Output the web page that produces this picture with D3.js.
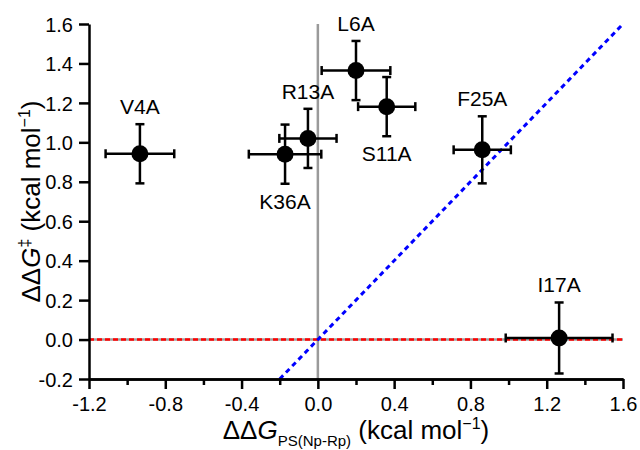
<!DOCTYPE html>
<html>
<head>
<meta charset="utf-8">
<script src="https://cdn.jsdelivr.net/npm/d3@7"></script>
<style>
  html, body { margin: 0; padding: 0; background: #fff; }
  svg { display: block; font-family: Arial, "Liberation Sans", sans-serif; }
</style>
</head>
<body>
<svg id="chart" width="640" height="450"></svg>
<script>
// ---- data ----
const mutants   = ["V4A", "K36A", "R13A", "L6A", "S11A", "F25A", "I17A"];
const ddGps     = [-0.933, -0.172, -0.052, 0.200, 0.361, 0.862, 1.265];
const ddGts     = [0.942, 0.940, 1.020, 1.364, 1.181, 0.962, 0.008];
const xErr      = [0.18, 0.19, 0.15, 0.18, 0.15, 0.15, 0.28];
const yErr      = [0.15, 0.15, 0.15, 0.15, 0.15, 0.17, 0.18];
const labelSide = ["top", "bottom", "top", "top", "bottom", "top", "top"];
const xTicksMajor = [-1.2, -0.8, -0.4, 0.0, 0.4, 0.8, 1.2, 1.6];
const xTicksMinor = [-1.0, -0.6, -0.2, 0.2, 0.6, 1.0, 1.4];
const yTicks      = [-0.2, 0.0, 0.2, 0.4, 0.6, 0.8, 1.0, 1.2, 1.4, 1.6];
const xDomain = [-1.2, 1.6];
const yDomain = [-0.2, 1.6];
const diagLine = [[-0.2, -0.2], [1.6, 1.6]];   // y = x reference

// ---- layout ----
const svg = d3.select("#chart");
const pL = 89, pR = 623, pT = 24, pB = 379;
const x = d3.scaleLinear().domain(xDomain).range([pL, pR]);
const y = d3.scaleLinear().domain(yDomain).range([pB, pT]);

const points = mutants.map((m, i) => ({
  name: m, x: ddGps[i], y: ddGts[i], ex: xErr[i], ey: yErr[i], side: labelSide[i]
}));

// reference lines
svg.append("line")
  .attr("x1", x(0)).attr("x2", x(0)).attr("y1", y(yDomain[0])).attr("y2", y(yDomain[1]))
  .attr("stroke", "#9a9a9a").attr("stroke-width", 2.5);
svg.append("line")
  .attr("x1", x(xDomain[0])).attr("x2", x(xDomain[1])).attr("y1", y(0)).attr("y2", y(0))
  .attr("stroke", "#a0a0a0").attr("stroke-width", 2.5);
svg.append("line")
  .attr("x1", x(xDomain[0])).attr("x2", x(xDomain[1])).attr("y1", y(0)).attr("y2", y(0))
  .attr("stroke", "#ff0000").attr("stroke-width", 2.5).attr("stroke-dasharray", "5,3");
svg.append("path")
  .datum(diagLine)
  .attr("d", d3.line().x(d => x(d[0])).y(d => y(d[1])))
  .attr("fill", "none").attr("stroke", "#0000ff").attr("stroke-width", 3)
  .attr("stroke-dasharray", "5,4");

// error bars
const cap = 4.5;
const eb = svg.append("g").attr("stroke", "#000").attr("stroke-width", 2.5);
points.forEach(p => {
  eb.append("line").attr("x1", x(p.x - p.ex)).attr("x2", x(p.x + p.ex)).attr("y1", y(p.y)).attr("y2", y(p.y));
  eb.append("line").attr("x1", x(p.x - p.ex)).attr("x2", x(p.x - p.ex)).attr("y1", y(p.y) - cap).attr("y2", y(p.y) + cap);
  eb.append("line").attr("x1", x(p.x + p.ex)).attr("x2", x(p.x + p.ex)).attr("y1", y(p.y) - cap).attr("y2", y(p.y) + cap);
  eb.append("line").attr("x1", x(p.x)).attr("x2", x(p.x)).attr("y1", y(p.y - p.ey)).attr("y2", y(p.y + p.ey));
  eb.append("line").attr("x1", x(p.x) - cap).attr("x2", x(p.x) + cap).attr("y1", y(p.y - p.ey)).attr("y2", y(p.y - p.ey));
  eb.append("line").attr("x1", x(p.x) - cap).attr("x2", x(p.x) + cap).attr("y1", y(p.y + p.ey)).attr("y2", y(p.y + p.ey));
});

// points
svg.append("g").selectAll("circle").data(points).join("circle")
  .attr("cx", d => x(d.x)).attr("cy", d => y(d.y)).attr("r", 8.5).attr("fill", "#000");

// point labels
svg.append("g").selectAll("text").data(points).join("text")
  .attr("x", d => x(d.x))
  .attr("y", d => d.side === "top" ? y(d.y + d.ey) - 10 : y(d.y - d.ey) + 10)
  .attr("dy", d => d.side === "top" ? "0" : "0.72em")
  .attr("text-anchor", "middle")
  .attr("font-size", 21).attr("fill", "#000")
  .text(d => d.name);

// axes
const fmt = d3.format(".1f");
const fmtTick = v => fmt(v).replace("\u2212", "-");

const yAxis = svg.append("g").attr("transform", `translate(${pL},0)`)
  .call(d3.axisLeft(y).tickValues(yTicks).tickFormat(fmtTick).tickSize(10).tickPadding(6).tickSizeOuter(0));
const xAxisMinor = svg.append("g").attr("transform", `translate(0,${pB})`)
  .call(d3.axisBottom(x).tickValues(xTicksMinor).tickFormat("").tickSize(6).tickSizeOuter(0));
const xAxis = svg.append("g").attr("transform", `translate(0,${pB})`)
  .call(d3.axisBottom(x).tickValues(xTicksMajor).tickFormat(fmtTick).tickSize(10).tickPadding(8).tickSizeOuter(0));

[yAxis, xAxis, xAxisMinor].forEach(a => {
  a.select(".domain").attr("stroke", "#000").attr("stroke-width", 2.5);
  a.selectAll(".tick line").attr("stroke", "#000").attr("stroke-width", 2.5);
  a.selectAll(".tick text").attr("font-size", 20).attr("fill", "#000")
    .attr("font-family", "Arial, 'Liberation Sans', sans-serif");
});
yAxis.selectAll(".tick text").attr("dy", "0.36em");

// axis titles
const xt = svg.append("text")
  .attr("x", (pL + pR) / 2).attr("y", 439)
  .attr("text-anchor", "middle").attr("font-size", 26).attr("fill", "#000");
xt.append("tspan").text("\u0394\u0394");
xt.append("tspan").attr("font-style", "italic").text("G");
xt.append("tspan").attr("font-size", 15).attr("dy", 7).text("PS(Np-Rp)");
xt.append("tspan").attr("dy", -7).text(" (kcal mol");
xt.append("tspan").attr("font-size", 16).attr("dy", -10).text("\u22121");
xt.append("tspan").attr("dy", 10).text(")");

const yt = svg.append("text")
  .attr("transform", `translate(40,${(pT + pB) / 2}) rotate(-90)`)
  .attr("text-anchor", "middle").attr("font-size", 26).attr("fill", "#000");
yt.append("tspan").text("\u0394\u0394");
yt.append("tspan").attr("font-style", "italic").text("G");
yt.append("tspan").attr("font-size", 16).attr("dy", -10).text("\u2021");
yt.append("tspan").attr("dy", 10).text(" (kcal mol");
yt.append("tspan").attr("font-size", 16).attr("dy", -10).text("\u22121");
yt.append("tspan").attr("dy", 10).text(")");
</script>
</body>
</html>
